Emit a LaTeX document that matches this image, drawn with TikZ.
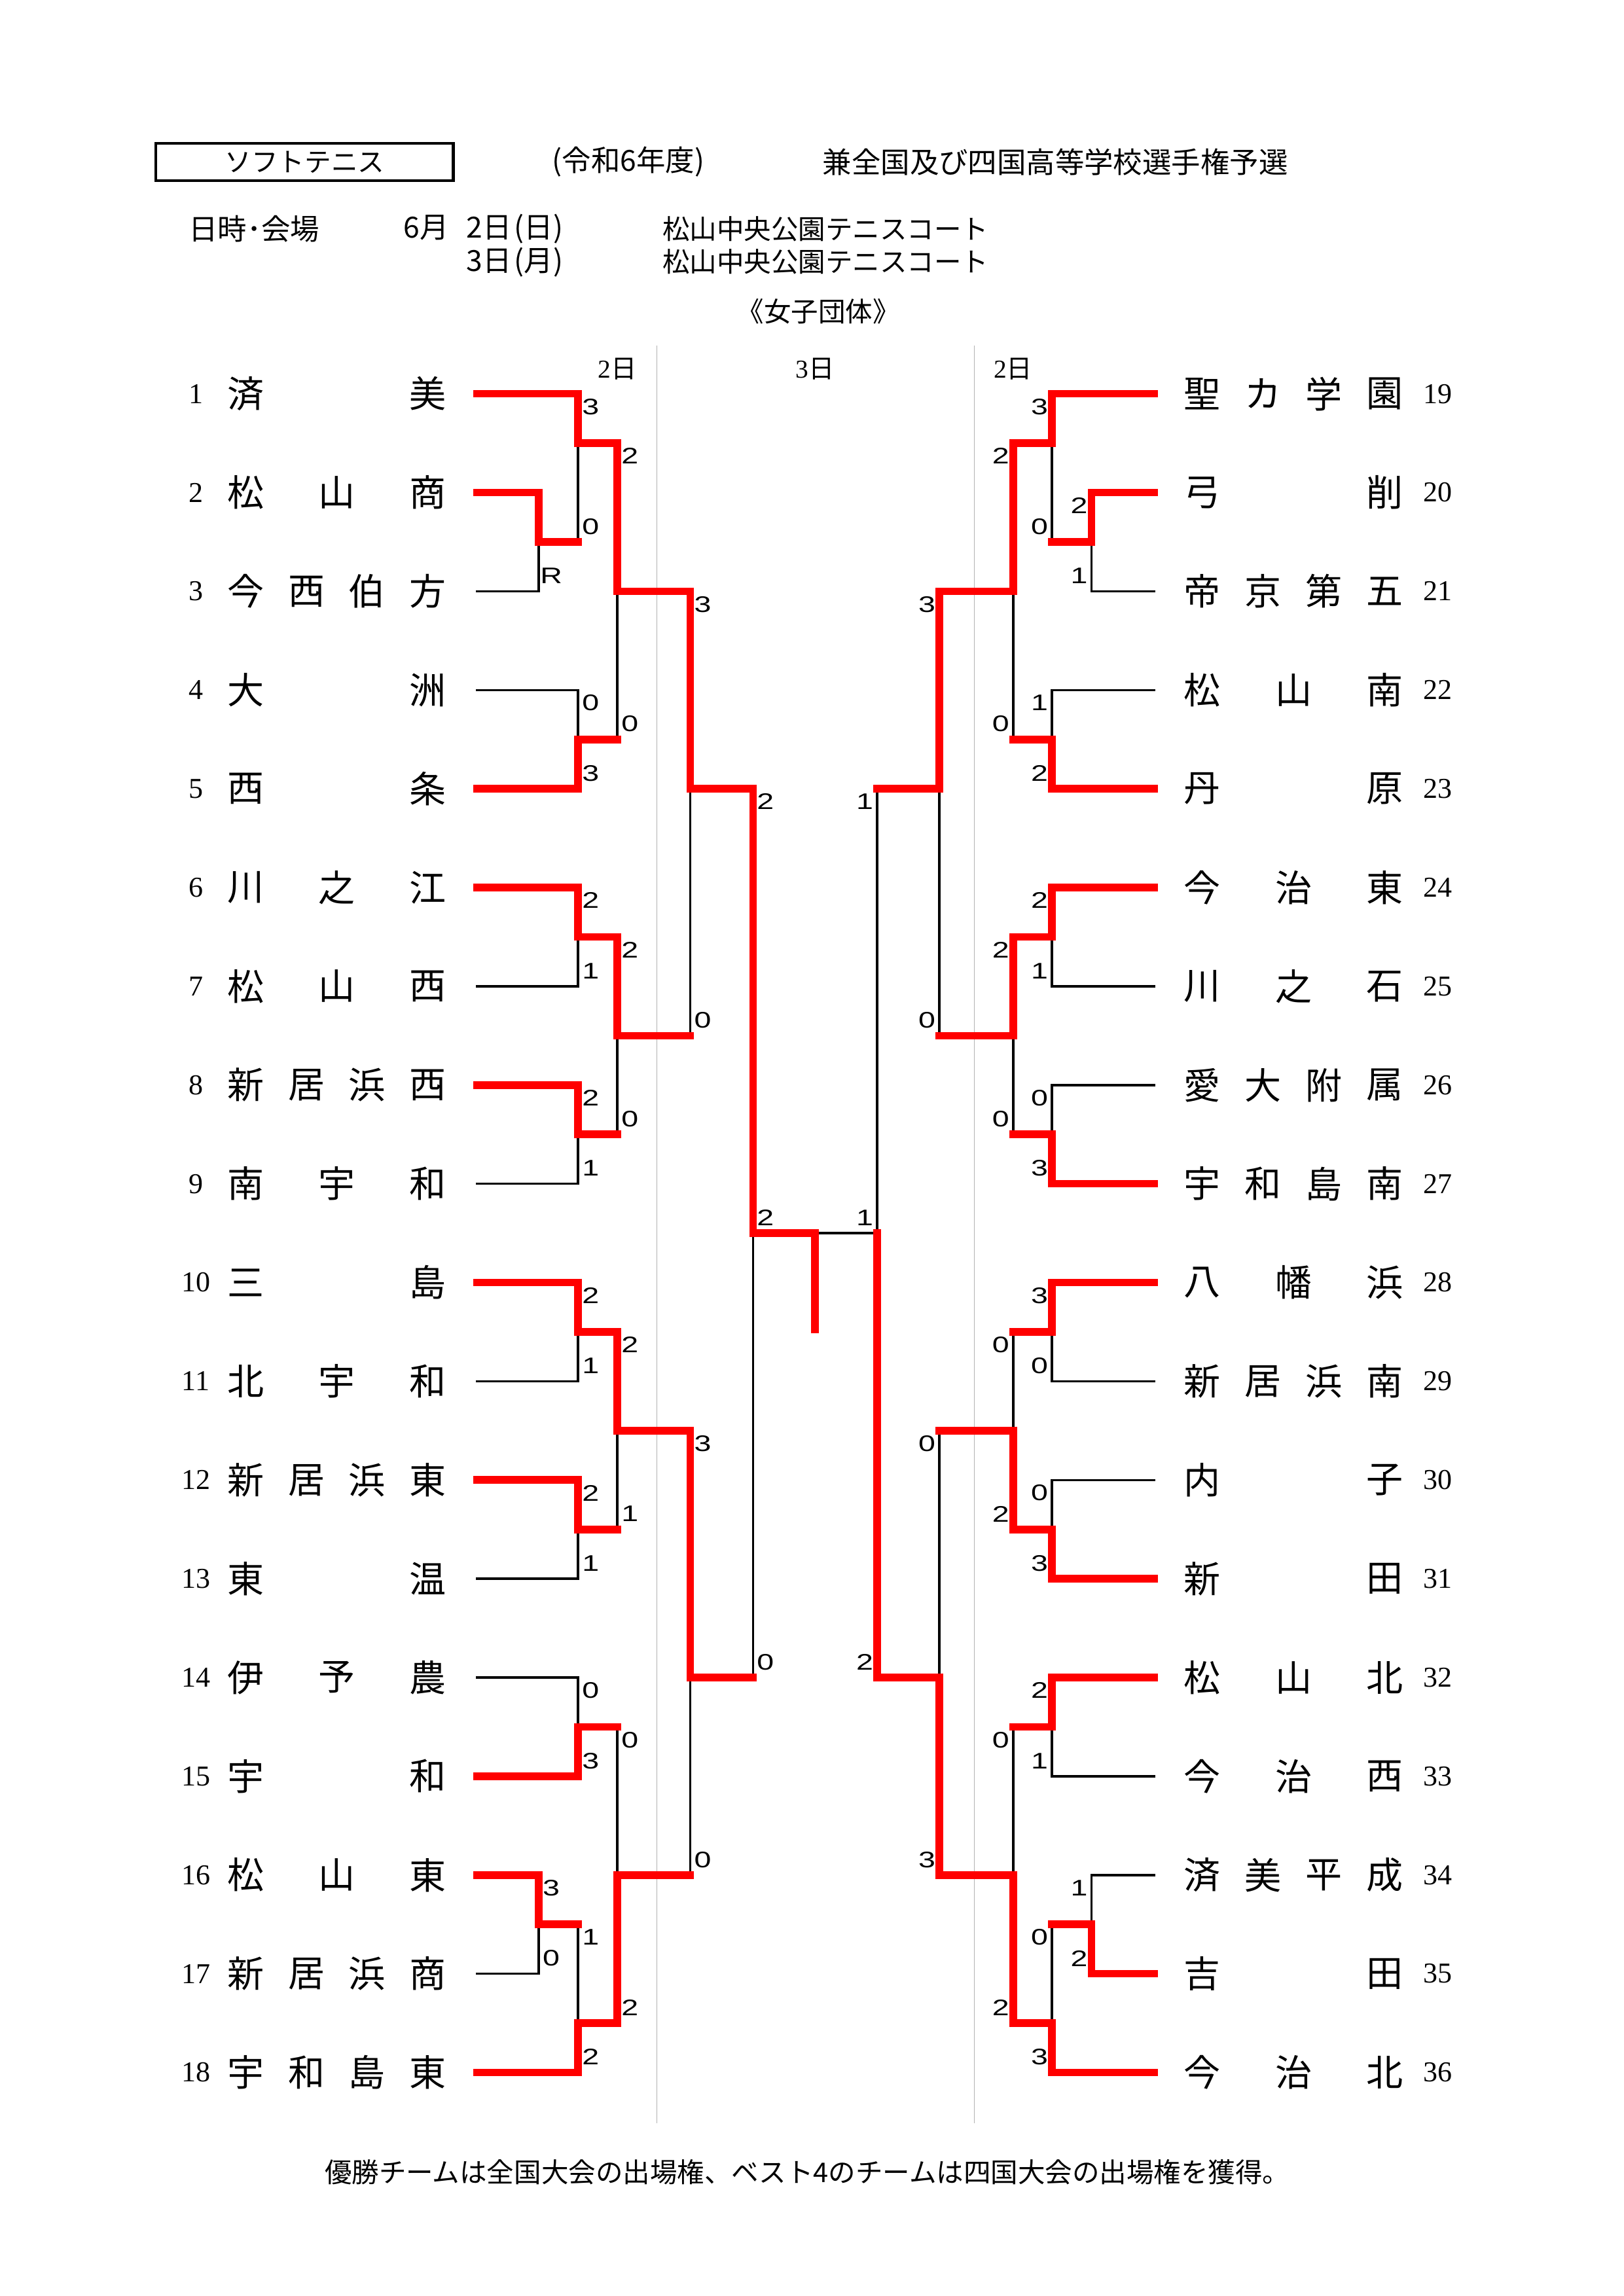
\documentclass[tikz,border=0pt]{standalone}
\usepackage{fontspec}
\setmainfont{Liberation Serif}
\newfontfamily\jp{Noto Sans CJK JP}
\newfontfamily\numf{Liberation Serif}
\newfontfamily\scf{Liberation Sans}[FakeStretch=1.35]
\pgfdeclarelayer{bg}
\pgfsetlayers{bg,main}
\tikzset{
  win/.style={draw=red, line width=2.8pt, line cap=rect},
  lose/.style={draw=black, line width=0.85pt, line cap=rect},
  gridl/.style={draw=black!30, line width=0.4pt},
  nm/.style={inner sep=0pt, font=\jp\fontsize{13.5pt}{15pt}\selectfont},
  num/.style={inner sep=0pt, font=\numf\fontsize{10.6pt}{12pt}\selectfont},
  sc/.style={inner sep=0pt, font=\scf\fontsize{8.3pt}{9pt}\selectfont},
  hd/.style={inner sep=0pt, font=\jp\fontsize{10.7pt}{12pt}\selectfont},
  hds/.style={inner sep=0pt, font=\jp\fontsize{10pt}{12pt}\selectfont},
  day/.style={inner sep=0pt, font=\jp\fontsize{9.5pt}{10pt}\selectfont},
}
\newcount\scn
\newcommand\segR[1]{\draw[win] #1;}
\newcommand\segK[1]{\begin{pgfonlayer}{bg}\draw[lose] #1;\end{pgfonlayer}}
% match: x, ya, yb, ym, style a, style b, xnext
\newcommand\mt[7]{%
  \csname seg#5\endcsname{(#1,{ry(#2)}) -- (#1,{ry(#4)})}%
  \csname seg#6\endcsname{(#1,{ry(#3)}) -- (#1,{ry(#4)})}%
  \segR{(#1,{ry(#4)}) -- (#7,{ry(#4)})}%
}
% team lines
\newcommand\tlL[3]{\csname seg#3\endcsname{(324,{ry(#1)}) -- (#2,{ry(#1)})}}
\newcommand\tlR[3]{\csname seg#3\endcsname{(784,{ry(#1)}) -- (#2,{ry(#1)})}}
% scores
\newcommand\scL[5]{%
  \global\advance\scn by 1 \node[sc] (sc\the\scn) at ({#1+8.5},{ry(#2)+8.8}) {#4};%
  \global\advance\scn by 1 \node[sc] (sc\the\scn) at ({#1+8.5},{ry(#3)-10.5}) {#5};}
\newcommand\scR[5]{%
  \global\advance\scn by 1 \node[sc] (sc\the\scn) at ({#1-8.5},{ry(#2)+8.8}) {#4};%
  \global\advance\scn by 1 \node[sc] (sc\the\scn) at ({#1-8.5},{ry(#3)-10.5}) {#5};}
% team names spread evenly
\newcommand\nmset[5]{%
  \xdef\nmcount{0}%
  \foreach \c in {#5}{\xdef\nmcount{\the\numexpr\nmcount+1\relax}}%
  \foreach \c [count=\i] in {#5}{\node[nm] (t#4#3-\i) at ({#1+(\i-1)*(#2-#1)/(\nmcount-1)},{ry(#3)}) {\c};}%
}
\def\xLP{366}\def\xLa{392.8}\def\xLb{419.5}\def\xLc{469}\def\xLd{511.6}
\def\xF{553.8}
\def\xRd{596}\def\xRc{638.3}\def\xRb{688.4}\def\xRa{714.8}\def\xRP{741.7}
\begin{document}
\begin{tikzpicture}[x=0.19039mm, y=-0.19039mm, declare function={ry(\k)=267.6+67.1*(\k-1);}]
\begin{pgfonlayer}{bg}\fill[white] (0,0) rectangle (1103,1560.2);\end{pgfonlayer}
\useasboundingbox (0,0) rectangle (1103,1560.2);

% ---------- header ----------
\node[draw, line width=1pt, minimum width=38.46mm, minimum height=4.82mm, inner sep=0pt,
      font=\jp\fontsize{9.8pt}{11pt}\selectfont] (title) at (207,110.1) {ソフトテニス};
\node[hd] (year) at (427,110) {(令和6年度)};
\node[hd] (event) at (717,110) {兼全国及び四国高等学校選手権予選};
\node[hd] (dtlabel) at (172.7,155.5) {日時･会場};
\node[hd, anchor=east] (d1) at (383,155.5) {6月\hspace{0.6em}2日\hspace{0.1em}(日)};
\node[hd, anchor=east] (d2) at (383,178) {3日\hspace{0.1em}(月)};
\node[hds] (v1) at (561,155.5) {松山中央公園テニスコート};
\node[hds] (v2) at (561,178) {松山中央公園テニスコート};
\node[hds] (cat) at (556,211.7) {《女子団体》};

% ---------- day columns ----------
\begin{pgfonlayer}{bg}
\draw[gridl] (446.3,234.7) -- (446.3,1442.8);
\draw[gridl] (662,234.7) -- (662,1442.8);
\end{pgfonlayer}
\node[day] (dayL) at (419.5,250.7) {{\numf 2}日};
\node[day] (dayC) at (553.8,250.7) {{\numf 3}日};
\node[day] (dayR) at (688.4,250.7) {{\numf 2}日};

% ---------- numbers ----------
\foreach \k in {1,...,18} {\node[num] (nl\k) at (133,{ry(\k)}) {\k};}
\foreach \k in {1,...,18} {\pgfmathtruncatemacro\tn{\k+18}\node[num] (nr\k) at (977,{ry(\k)}) {\tn};}

% ---------- left names ----------
\nmset{167}{290.7}{1}{L}{済,美}
\nmset{167}{290.7}{2}{L}{松,山,商}
\nmset{167}{290.7}{3}{L}{今,西,伯,方}
\nmset{167}{290.7}{4}{L}{大,洲}
\nmset{167}{290.7}{5}{L}{西,条}
\nmset{167}{290.7}{6}{L}{川,之,江}
\nmset{167}{290.7}{7}{L}{松,山,西}
\nmset{167}{290.7}{8}{L}{新,居,浜,西}
\nmset{167}{290.7}{9}{L}{南,宇,和}
\nmset{167}{290.7}{10}{L}{三,島}
\nmset{167}{290.7}{11}{L}{北,宇,和}
\nmset{167}{290.7}{12}{L}{新,居,浜,東}
\nmset{167}{290.7}{13}{L}{東,温}
\nmset{167}{290.7}{14}{L}{伊,予,農}
\nmset{167}{290.7}{15}{L}{宇,和}
\nmset{167}{290.7}{16}{L}{松,山,東}
\nmset{167}{290.7}{17}{L}{新,居,浜,商}
\nmset{167}{290.7}{18}{L}{宇,和,島,東}
% ---------- right names ----------
\nmset{817}{940.8}{1}{R}{聖,カ,学,園}
\nmset{817}{940.8}{2}{R}{弓,削}
\nmset{817}{940.8}{3}{R}{帝,京,第,五}
\nmset{817}{940.8}{4}{R}{松,山,南}
\nmset{817}{940.8}{5}{R}{丹,原}
\nmset{817}{940.8}{6}{R}{今,治,東}
\nmset{817}{940.8}{7}{R}{川,之,石}
\nmset{817}{940.8}{8}{R}{愛,大,附,属}
\nmset{817}{940.8}{9}{R}{宇,和,島,南}
\nmset{817}{940.8}{10}{R}{八,幡,浜}
\nmset{817}{940.8}{11}{R}{新,居,浜,南}
\nmset{817}{940.8}{12}{R}{内,子}
\nmset{817}{940.8}{13}{R}{新,田}
\nmset{817}{940.8}{14}{R}{松,山,北}
\nmset{817}{940.8}{15}{R}{今,治,西}
\nmset{817}{940.8}{16}{R}{済,美,平,成}
\nmset{817}{940.8}{17}{R}{吉,田}
\nmset{817}{940.8}{18}{R}{今,治,北}

% ---------- left team lines ----------
\tlL{1}{\xLa}{R}\tlL{2}{\xLP}{R}\tlL{3}{\xLP}{K}\tlL{4}{\xLa}{K}\tlL{5}{\xLa}{R}
\tlL{6}{\xLa}{R}\tlL{7}{\xLa}{K}\tlL{8}{\xLa}{R}\tlL{9}{\xLa}{K}\tlL{10}{\xLa}{R}
\tlL{11}{\xLa}{K}\tlL{12}{\xLa}{R}\tlL{13}{\xLa}{K}\tlL{14}{\xLa}{K}\tlL{15}{\xLa}{R}
\tlL{16}{\xLP}{R}\tlL{17}{\xLP}{K}\tlL{18}{\xLa}{R}
% ---------- left matches ----------
\mt{\xLP}{2}{3}{2.5}{R}{K}{\xLa}
\mt{\xLa}{1}{2.5}{1.5}{R}{K}{\xLb}
\mt{\xLa}{4}{5}{4.5}{K}{R}{\xLb}
\mt{\xLa}{6}{7}{6.5}{R}{K}{\xLb}
\mt{\xLa}{8}{9}{8.5}{R}{K}{\xLb}
\mt{\xLa}{10}{11}{10.5}{R}{K}{\xLb}
\mt{\xLa}{12}{13}{12.5}{R}{K}{\xLb}
\mt{\xLa}{14}{15}{14.5}{K}{R}{\xLb}
\mt{\xLP}{16}{17}{16.5}{R}{K}{\xLa}
\mt{\xLa}{16.5}{18}{17.5}{K}{R}{\xLb}
\mt{\xLb}{1.5}{4.5}{3}{R}{K}{\xLc}
\mt{\xLb}{6.5}{8.5}{7.5}{R}{K}{\xLc}
\mt{\xLb}{10.5}{12.5}{11.5}{R}{K}{\xLc}
\mt{\xLb}{14.5}{17.5}{16}{K}{R}{\xLc}
\mt{\xLc}{3}{7.5}{5}{R}{K}{\xLd}
\mt{\xLc}{11.5}{16}{14}{R}{K}{\xLd}
\mt{\xLd}{5}{14}{9.5}{R}{K}{\xF}
% ---------- right team lines ----------
\tlR{1}{\xRa}{R}\tlR{2}{\xRP}{R}\tlR{3}{\xRP}{K}\tlR{4}{\xRa}{K}\tlR{5}{\xRa}{R}
\tlR{6}{\xRa}{R}\tlR{7}{\xRa}{K}\tlR{8}{\xRa}{K}\tlR{9}{\xRa}{R}\tlR{10}{\xRa}{R}
\tlR{11}{\xRa}{K}\tlR{12}{\xRa}{K}\tlR{13}{\xRa}{R}\tlR{14}{\xRa}{R}\tlR{15}{\xRa}{K}
\tlR{16}{\xRP}{K}\tlR{17}{\xRP}{R}\tlR{18}{\xRa}{R}
% ---------- right matches ----------
\mt{\xRP}{2}{3}{2.5}{R}{K}{\xRa}
\mt{\xRa}{1}{2.5}{1.5}{R}{K}{\xRb}
\mt{\xRa}{4}{5}{4.5}{K}{R}{\xRb}
\mt{\xRa}{6}{7}{6.5}{R}{K}{\xRb}
\mt{\xRa}{8}{9}{8.5}{K}{R}{\xRb}
\mt{\xRa}{10}{11}{10.5}{R}{K}{\xRb}
\mt{\xRa}{12}{13}{12.5}{K}{R}{\xRb}
\mt{\xRa}{14}{15}{14.5}{R}{K}{\xRb}
\mt{\xRP}{16}{17}{16.5}{K}{R}{\xRa}
\mt{\xRa}{16.5}{18}{17.5}{K}{R}{\xRb}
\mt{\xRb}{1.5}{4.5}{3}{R}{K}{\xRc}
\mt{\xRb}{6.5}{8.5}{7.5}{R}{K}{\xRc}
\mt{\xRb}{10.5}{12.5}{11.5}{K}{R}{\xRc}
\mt{\xRb}{14.5}{17.5}{16}{K}{R}{\xRc}
\mt{\xRc}{3}{7.5}{5}{R}{K}{\xRd}
\mt{\xRc}{11.5}{16}{14}{K}{R}{\xRd}
\segK{(\xRd,{ry(5)}) -- (\xRd,{ry(9.5)})}
\segR{(\xRd,{ry(14)}) -- (\xRd,{ry(9.5)})}
\segK{(\xRd,{ry(9.5)}) -- (\xF,{ry(9.5)})}
% ---------- champion ----------
\segR{(\xF,{ry(9.5)}) -- (\xF,{ry(10.5)-1.5})}

% ---------- left scores ----------
\node[sc] (scP1) at ({\xLP+8.5},{ry(3)-10.5}) {R};
\scL{\xLa}{1}{2.5}{3}{0}
\scL{\xLa}{4}{5}{0}{3}
\scL{\xLa}{6}{7}{2}{1}
\scL{\xLa}{8}{9}{2}{1}
\scL{\xLa}{10}{11}{2}{1}
\scL{\xLa}{12}{13}{2}{1}
\scL{\xLa}{14}{15}{0}{3}
\scL{\xLP}{16}{17}{3}{0}
\scL{\xLa}{16.5}{18}{1}{2}
\scL{\xLb}{1.5}{4.5}{2}{0}
\scL{\xLb}{6.5}{8.5}{2}{0}
\scL{\xLb}{10.5}{12.5}{2}{1}
\scL{\xLb}{14.5}{17.5}{0}{2}
\scL{\xLc}{3}{7.5}{3}{0}
\scL{\xLc}{11.5}{16}{3}{0}
\scL{\xLd}{5}{14}{2}{0}
% ---------- right scores ----------
\scR{\xRP}{2}{3}{2}{1}
\scR{\xRa}{1}{2.5}{3}{0}
\scR{\xRa}{4}{5}{1}{2}
\scR{\xRa}{6}{7}{2}{1}
\scR{\xRa}{8}{9}{0}{3}
\scR{\xRa}{10}{11}{3}{0}
\scR{\xRa}{12}{13}{0}{3}
\scR{\xRa}{14}{15}{2}{1}
\scR{\xRP}{16}{17}{1}{2}
\scR{\xRa}{16.5}{18}{0}{3}
\scR{\xRb}{1.5}{4.5}{2}{0}
\scR{\xRb}{6.5}{8.5}{2}{0}
\scR{\xRb}{10.5}{12.5}{0}{2}
\scR{\xRb}{14.5}{17.5}{0}{2}
\scR{\xRc}{3}{7.5}{3}{0}
\scR{\xRc}{11.5}{16}{0}{3}
\scR{\xRd}{5}{14}{1}{2}
% ---------- final scores ----------
\node[sc] (finL) at ({\xLd+8.5},{ry(9.5)-10.5}) {2};
\node[sc] (finR) at ({\xRd-8.5},{ry(9.5)-10.5}) {1};

% ---------- footer ----------
\node[hds] (note) at (548.5,1476) {優勝チームは全国大会の出場権、ベスト4のチームは四国大会の出場権を獲得。};
\end{tikzpicture}
\end{document}
